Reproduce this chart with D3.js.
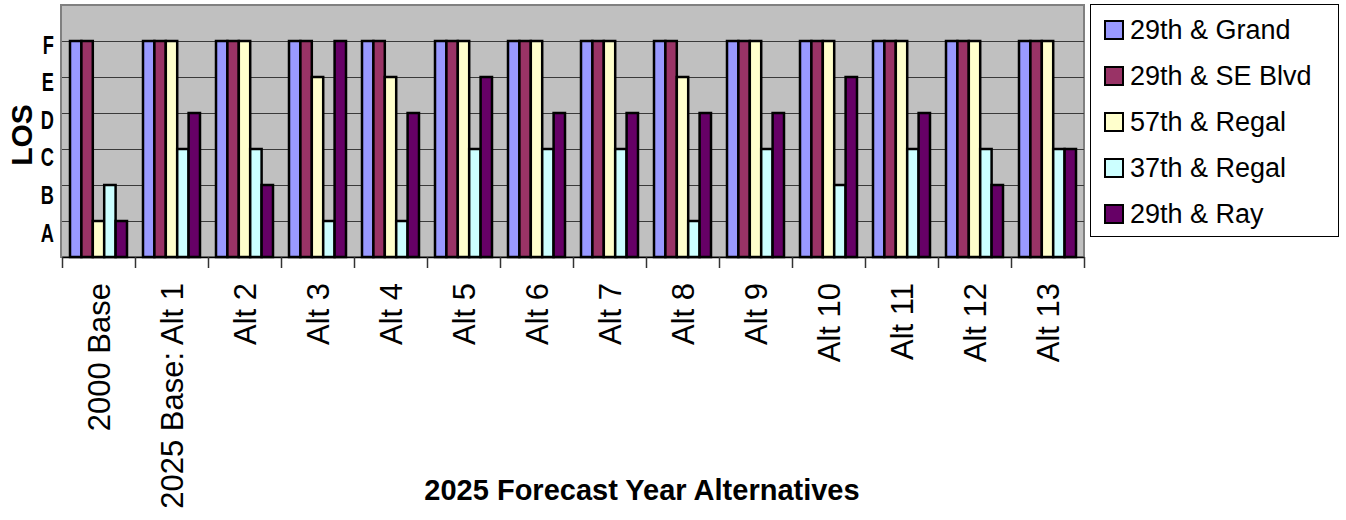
<!DOCTYPE html>
<html>
<head>
<meta charset="utf-8">
<script src="https://cdn.jsdelivr.net/npm/d3@7"></script>
<style>
  body { margin: 0; background: #fff; }
  svg { display: block; }
</style>
</head>
<body>
<div class="chart"></div>
<script>
// data
const categories = ["2000 Base", "2025 Base: Alt 1", "Alt 2", "Alt 3", "Alt 4", "Alt 5", "Alt 6",
    "Alt 7", "Alt 8", "Alt 9", "Alt 10", "Alt 11", "Alt 12", "Alt 13"];
const seriesNames = ["29th & Grand", "29th & SE Blvd", "57th & Regal", "37th & Regal", "29th & Ray"];
const seriesColors = ["#9999FF", "#993366", "#FFFFCC", "#CCFFFF", "#660066"];
const losLabels = ["A", "B", "C", "D", "E", "F"];

// LOS values, A=1 ... F=6
const grand   = [6, 6, 6, 6, 6, 6, 6, 6, 6, 6, 6, 6, 6, 6];
const seBlvd  = [6, 6, 6, 6, 6, 6, 6, 6, 6, 6, 6, 6, 6, 6];
const regal57 = [1, 6, 6, 5, 5, 6, 6, 6, 5, 6, 6, 6, 6, 6];
const regal37 = [2, 3, 3, 1, 1, 3, 3, 3, 1, 3, 2, 3, 3, 3];
const ray     = [1, 4, 2, 6, 4, 5, 4, 4, 4, 4, 5, 4, 2, 3];
const seriesValues = [grand, seBlvd, regal57, regal37, ray];

const width = 1346, height = 520;
const plot = { left: 62, right: 1084, top: 5, bottom: 257 };

const svg = d3.select(".chart").append("svg")
    .attr("width", width)
    .attr("height", height);

const x0 = d3.scaleBand()
    .domain(categories)
    .range([plot.left, plot.right])
    .paddingInner(16 / 73)
    .paddingOuter(8 / 73);

const x1 = d3.scaleBand()
    .domain(d3.range(seriesNames.length))
    .range([0, x0.bandwidth()]);

const y = d3.scaleLinear()
    .domain([0, 7])
    .range([plot.bottom, plot.top]);

// tick labels sit a little lower each step in the original
const yLabel = d3.scaleLinear()
    .domain([1, 6])
    .range([232, 44]);

// plot background
svg.append("rect")
    .attr("x", plot.left - 1)
    .attr("y", plot.top)
    .attr("width", plot.right - plot.left + 1)
    .attr("height", plot.bottom - plot.top)
    .attr("fill", "#C0C0C0")
    .attr("stroke", "#808080")
    .attr("stroke-width", 2);

// gridlines
svg.append("g")
    .selectAll("line")
    .data(d3.range(1, 7))
    .join("line")
    .attr("x1", plot.left)
    .attr("x2", plot.right)
    .attr("y1", d => Math.round(y(d)) + 0.5)
    .attr("y2", d => Math.round(y(d)) + 0.5)
    .attr("stroke", "#3a3a3a")
    .attr("stroke-width", 1);

// bars
const rows = categories.map((c, i) => ({ cat: c, vals: seriesValues.map(s => s[i]) }));

svg.append("g")
    .selectAll("g")
    .data(rows)
    .join("g")
    .attr("transform", d => `translate(${x0(d.cat)},0)`)
    .selectAll("rect")
    .data(d => d.vals.map((v, k) => ({ k: k, v: v })))
    .join("rect")
    .attr("x", d => x1(d.k))
    .attr("y", d => y(d.v))
    .attr("width", x1.bandwidth())
    .attr("height", d => y(0) - y(d.v))
    .attr("fill", d => seriesColors[d.k])
    .attr("stroke", "#000")
    .attr("stroke-width", 2.5);

// x axis line + boundary ticks
const xb = d3.scaleLinear().domain([0, categories.length]).range([plot.left, plot.right]);
svg.append("g")
    .attr("transform", `translate(0,${plot.bottom})`)
    .call(d3.axisBottom(xb).tickValues(d3.range(categories.length + 1)).tickFormat("").tickSize(11).tickSizeOuter(0))
    .call(g => g.select(".domain").attr("stroke", "#000").attr("stroke-width", 1.5))
    .call(g => g.selectAll(".tick line").attr("stroke", "#333").attr("stroke-width", 1.5));

// category labels
svg.append("g")
    .selectAll("text")
    .data(categories)
    .join("text")
    .attr("transform", d => `translate(${x0(d) + x0.bandwidth() / 2},283) rotate(-90)`)
    .attr("text-anchor", "end")
    .attr("dy", "0.36em")
    .style("font-family", "Arial, 'Liberation Sans', sans-serif")
    .style("font-size", "31px")
    .text(d => d);

// LOS tick labels (condensed bold look)
svg.append("g")
    .selectAll("text")
    .data(losLabels)
    .join("text")
    .attr("transform", (d, i) => `translate(54,${yLabel(i + 1)}) scale(0.76,1.1)`)
    .attr("dy", "0.36em")
    .attr("text-anchor", "end")
    .style("font-family", "'Liberation Sans Narrow', 'Arial Narrow', Arial, sans-serif")
    .style("font-weight", "bold")
    .style("font-size", "24px")
    .text(d => d);

// axis titles
svg.append("text")
    .attr("transform", "translate(21,135) rotate(-90)")
    .attr("text-anchor", "middle")
    .attr("dy", "0.36em")
    .style("font-family", "Arial, 'Liberation Sans', sans-serif")
    .style("font-weight", "bold")
    .style("font-size", "30px")
    .text("LOS");

svg.append("text")
    .attr("x", 642)
    .attr("y", 500)
    .attr("text-anchor", "middle")
    .style("font-family", "Arial, 'Liberation Sans', sans-serif")
    .style("font-weight", "bold")
    .style("font-size", "29px")
    .text("2025 Forecast Year Alternatives");

// legend
const legend = svg.append("g");
legend.append("rect")
    .attr("x", 1090.5)
    .attr("y", 4.5)
    .attr("width", 248)
    .attr("height", 232)
    .attr("fill", "#fff")
    .attr("stroke", "#000")
    .attr("stroke-width", 1);

const item = legend.selectAll("g")
    .data(seriesNames)
    .join("g")
    .attr("transform", (d, i) => `translate(1105,${21 + i * 46})`);

item.append("rect")
    .attr("width", 18)
    .attr("height", 18)
    .attr("fill", (d, i) => seriesColors[i])
    .attr("stroke", "#000")
    .attr("stroke-width", 2);

item.append("text")
    .attr("x", 25)
    .attr("y", 18)
    .style("font-family", "Arial, 'Liberation Sans', sans-serif")
    .style("font-size", "27px")
    .text(d => d);
</script>
</body>
</html>
